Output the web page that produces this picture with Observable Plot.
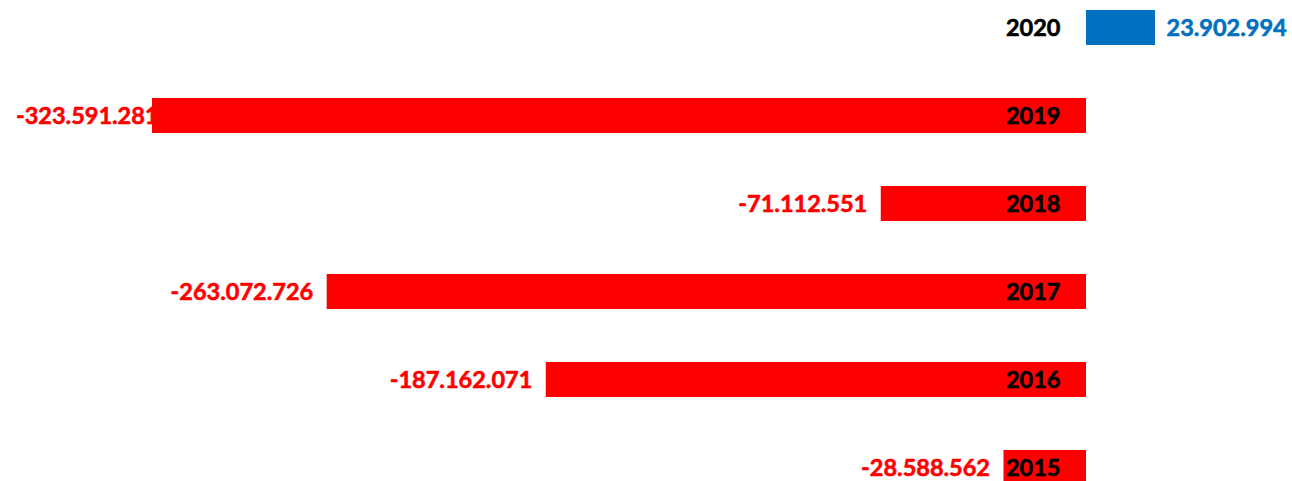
<!DOCTYPE html>
<html>
<head>
<meta charset="utf-8">
<script src="https://cdn.jsdelivr.net/npm/d3@7"></script>
<script src="https://cdn.jsdelivr.net/npm/@observablehq/plot@0.6"></script>
<style>
  html, body { margin: 0; padding: 0; background: #fff; overflow: hidden; }
  svg { display: block; }
</style>
</head>
<body>
<div id="chart"></div>
<script>
const years = ["2020", "2019", "2018", "2017", "2016", "2015"];
const values = [23902994, -323591281, -71112551, -263072726, -187162071, -28588562];
const valueLabels = ["23.902.994", "-323.591.281", "-71.112.551", "-263.072.726", "-187.162.071", "-28.588.562"];

const data = years.map((y, i) => ({year: y, value: values[i], label: valueLabels[i]}));
const minV = d3.min(values), maxV = d3.max(values);
const isClamped = d => d.value === minV;
const color = d => d.value >= 0 ? "#0070C0" : "#FF0000";
const font = "Lato, 'Open Sans', sans-serif";
const txt = {fontSize: 23.5, fontWeight: "bold", strokeWidth: 0.6};

const chart = Plot.plot({
  width: 1292,
  height: 481,
  margin: 0,
  style: {fontFamily: font, background: "white", overflow: "visible"},
  x: {domain: [minV, maxV], range: [152, 1155], axis: null},
  y: {domain: years, range: [9.3, 485.8], paddingInner: 0.603, paddingOuter: 0, axis: null},
  marks: [
    // value labels (drawn under bars so the longest one is partly covered)
    Plot.text(data.filter(d => d.value < 0 && !isClamped(d)), {
      x: "value", y: "year", text: "label", textAnchor: "end", dx: -14,
      fill: "#FF0000", stroke: "#FF0000", ...txt
    }),
    Plot.text(data.filter(isClamped), {
      x: "value", y: "year", text: "label", textAnchor: "end", dx: 6,
      fill: "#FF0000", stroke: "#FF0000", ...txt
    }),
    Plot.text(data.filter(d => d.value >= 0), {
      x: "value", y: "year", text: "label", textAnchor: "start", dx: 11,
      fill: "#0070C0", stroke: "#0070C0", ...txt
    }),
    Plot.barX(data, {x1: 0, x2: "value", y: "year", fill: color}),
    Plot.text(data, {
      x: 0, y: "year", text: "year", textAnchor: "end", dx: -26,
      fill: "black", stroke: "black", ...txt
    })
  ]
});
document.getElementById("chart").appendChild(chart);
</script>
</body>
</html>
